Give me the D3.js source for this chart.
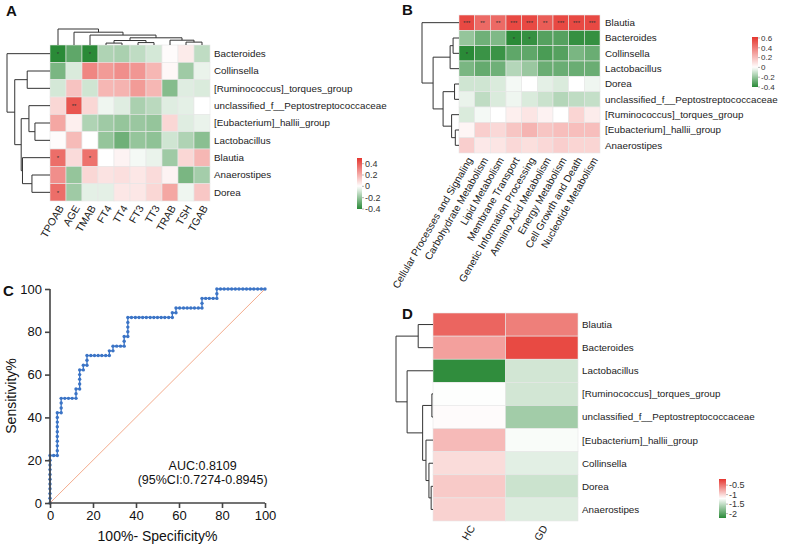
<!DOCTYPE html>
<html><head><meta charset="utf-8">
<script src="https://cdn.jsdelivr.net/npm/d3@7"></script>
<style>body{margin:0;background:#fff}svg{font-family:"Liberation Sans",Arial,sans-serif}</style>
</head><body><svg id="c" width="785" height="544"></svg>
<script>
// ---------------- DATA ----------------
// Panel A
const aRows = ["Bacteroides","Collinsella","[Ruminococcus]_torques_group","unclassified_f__Peptostreptococcaceae","[Eubacterium]_hallii_group","Lactobacillus","Blautia","Anaerostipes","Dorea"];
const aCols = ["TPOAB","AGE","TMAB","FT4","TT4","FT3","TT3","TRAB","TSH","TGAB"];
const aValues = [
  [-0.40,-0.30,-0.40,-0.15,-0.16,-0.12,-0.08, 0.01, 0.05,-0.12],
  [-0.25,-0.07, 0.30, 0.25, 0.28, 0.26, 0.18, 0.02,-0.18,-0.04],
  [-0.08, 0.15,-0.09, 0.18, 0.19, 0.25, 0.18,-0.23,-0.06,-0.07],
  [ 0.10, 0.42, 0.10,-0.03,-0.06,-0.16,-0.13,-0.06,-0.05, 0.00],
  [ 0.22, 0.04,-0.15,-0.18,-0.20,-0.19,-0.20, 0.10,-0.06,-0.04],
  [ 0.01, 0.17, 0.00,-0.20,-0.27,-0.20,-0.21,-0.09,-0.15,-0.22],
  [ 0.36, 0.09, 0.35, 0.00, 0.03,-0.02,-0.04,-0.18, 0.10, 0.18],
  [ 0.28,-0.20, 0.10, 0.07, 0.08, 0.06, 0.09, 0.03,-0.25,-0.17],
  [ 0.36,-0.18,-0.05,-0.05, 0.06, 0.06, 0.10, 0.22,-0.03, 0.14]
];
const aStars = [
  ["*","","*","","","","","","",""],
  ["","","","","","","","","",""],
  ["","","","","","","","","",""],
  ["","**","","","","","","","",""],
  ["","","","","","","","","",""],
  ["","","","","","","","","",""],
  ["*","","*","","","","","","",""],
  ["","","","","","","","","",""],
  ["*","","","","","","","","",""]
];
const aRowTree = {h:1.0,c:["Bacteroides",{h:0.82,c:[{h:0.53,c:["Collinsella","[Ruminococcus]_torques_group"]},{h:0.67,c:[{h:0.49,c:["unclassified_f__Peptostreptococcaceae",{h:0.35,c:["[Eubacterium]_hallii_group","Lactobacillus"]}]},{h:0.64,c:["Blautia",{h:0.42,c:["Anaerostipes","Dorea"]}]}]}]}]};
const aColTree = {h:1.0,c:["TPOAB",{h:0.8,c:["AGE",{h:0.62,c:["TMAB",{h:0.45,c:[{h:0.28,c:[{h:0.12,c:["FT4","TT4"]},{h:0.15,c:["FT3","TT3"]}]},{h:0.3,c:["TRAB",{h:0.18,c:["TSH","TGAB"]}]}]}]}]}]};
const aLegendTicks = [0.4,0.2,0,-0.2,-0.4];

// Panel B
const bRows = ["Blautia","Bacteroides","Collinsella","Lactobacillus","Dorea","unclassified_f__Peptostreptococcaceae","[Ruminococcus]_torques_group","[Eubacterium]_hallii_group","Anaerostipes"];
const bCols = ["Cellular Processes and Signaling","Carbohydrate Metabolism","Lipid Metabolism","Membrane Transport","Genetic Information Processing","Amnino Acid Metabolism","Energy Metabolism","Cell Growth and Death","Nucleotide Metabolism"];
const bValues = [
  [ 0.56, 0.46, 0.46, 0.56, 0.56, 0.50, 0.56, 0.56, 0.56],
  [-0.20,-0.27,-0.24,-0.40,-0.38,-0.32,-0.32,-0.38,-0.38],
  [-0.40,-0.37,-0.37,-0.30,-0.30,-0.34,-0.32,-0.25,-0.28],
  [-0.25,-0.29,-0.27,-0.14,-0.19,-0.28,-0.28,-0.28,-0.28],
  [-0.09,-0.09,-0.07,-0.02, 0.00,-0.05,-0.07, 0.00,-0.03],
  [-0.04,-0.12,-0.07,-0.03,-0.07,-0.10,-0.14,-0.12,-0.11],
  [-0.07,-0.02, 0.00, 0.05, 0.08, 0.04, 0.00, 0.13, 0.06],
  [ 0.03, 0.15, 0.12, 0.18, 0.23, 0.18, 0.20, 0.20, 0.20],
  [ 0.15, 0.07, 0.08, 0.12, 0.10, 0.12, 0.15, 0.13, 0.13]
];
const bStars = [
  ["***","**","**","***","***","**","***","***","***"],
  ["","","","*","*","","","",""],
  ["*","","","","","","","",""],
  ["","","","","","","","",""],
  ["","","","","","","","",""],
  ["","","","","","","","",""],
  ["","","","","","","","",""],
  ["","","","","","","","",""],
  ["","","","","","","","",""]
];
const bRowTree = {h:1.0,c:["Blautia",{h:0.7,c:[{h:0.24,c:[{h:0.16,c:["Bacteroides","Collinsella"]},"Lactobacillus"]},{h:0.43,c:[{h:0.12,c:["Dorea","unclassified_f__Peptostreptococcaceae"]},{h:0.2,c:["[Ruminococcus]_torques_group",{h:0.1,c:["[Eubacterium]_hallii_group","Anaerostipes"]}]}]}]}]};
const bLegendTicks = [0.6,0.4,0.2,0,-0.2,-0.4];

// Panel C
const rocPoints = [
  [0,0],[0,2.2],[0,4.4],[0,6.7],[0,8.9],[0,11.1],[0,13.3],[0,15.6],[0,17.8],[0,20.0],[0,22.2],
  [1.7,22.2],[3.4,22.2],
  [3.4,24.4],[3.4,26.7],[3.4,28.9],[3.4,31.1],[3.4,33.3],[3.4,35.6],[3.4,37.8],[3.4,40.0],[3.4,42.2],
  [5.2,42.2],[5.2,44.4],[5.2,46.7],[5.2,48.9],
  [6.9,48.9],[8.6,48.9],[10.3,48.9],[12.1,48.9],[12.1,51.1],[12.1,53.3],
  [13.8,53.3],[13.8,55.6],[13.8,57.8],[13.8,60.0],[13.8,62.2],
  [15.5,62.2],[15.5,64.4],[17.2,64.4],[17.2,66.7],[17.2,68.9],
  [19.0,68.9],[20.7,68.9],[22.4,68.9],[24.1,68.9],[25.9,68.9],[27.6,68.9],[27.6,71.1],
  [29.3,71.1],[29.3,73.3],[31.0,73.3],[32.8,73.3],[34.5,73.3],[34.5,75.6],[34.5,77.8],
  [36.2,77.8],[36.2,80.0],[36.2,82.2],[36.2,84.4],[36.2,86.7],
  [37.9,86.7],[39.7,86.7],[41.4,86.7],[43.1,86.7],[44.8,86.7],[46.6,86.7],[48.3,86.7],[50.0,86.7],[51.7,86.7],[53.4,86.7],[55.2,86.7],[56.9,86.7],
  [56.9,88.9],[58.6,88.9],[58.6,91.1],
  [60.3,91.1],[62.1,91.1],[63.8,91.1],[65.5,91.1],[67.2,91.1],[69.0,91.1],[70.7,91.1],[70.7,93.3],[70.7,95.6],
  [72.4,95.6],[74.1,95.6],[75.9,95.6],[77.6,95.6],[77.6,97.8],[77.6,100],
  [79.3,100],[81.0,100],[82.8,100],[84.5,100],[86.2,100],[87.9,100],[89.7,100],[91.4,100],[93.1,100],[94.8,100],[96.6,100],[98.3,100],[100,100]
];
const rocTicks = [0,20,40,60,80,100];
const aucText = ["AUC:0.8109","(95%CI:0.7274-0.8945)"];

// Panel D
const dRows = ["Blautia","Bacteroides","Lactobacillus","[Ruminococcus]_torques_group","unclassified_f__Peptostreptococcaceae","[Eubacterium]_hallii_group","Collinsella","Dorea","Anaerostipes"];
const dCols = ["HC","GD"];
const dValues = [
  [-0.42,-0.55],
  [-0.72,-0.28],
  [-2.20,-1.42],
  [-1.21,-1.42],
  [-1.18,-1.65],
  [-0.85,-1.23],
  [-1.02,-1.34],
  [-0.93,-1.45],
  [-0.97,-1.36]
];
const dRowTree = {h:1.0,c:[{h:0.4,c:["Blautia","Bacteroides"]},{h:0.7,c:["Lactobacillus",{h:0.28,c:[{h:0.03,c:["[Ruminococcus]_torques_group","unclassified_f__Peptostreptococcaceae"]},{h:0.19,c:["[Eubacterium]_hallii_group",{h:0.11,c:["Collinsella",{h:0.05,c:["Dorea","Anaerostipes"]}]}]}]}]}]};
const dLegendTicks = [-0.5,-1,-1.5,-2];

// ---------------- DRAWING ----------------
const svg = d3.select("#c");
const GREEN = "#2a8a37", WHITE = "#ffffff", RED = "#e5362f";
const TXT = "#222";

function drawTree(g, tree, leafPos, hScale, orient){
  function walk(n){
    if (typeof n === "string") return {p: leafPos(n), h: 0};
    const kids = n.c.map(walk);
    const hp = hScale(n.h);
    const p0 = kids[0].p, p1 = kids[1].p;
    if (orient === "left") g.append("line").attr("x1",hp).attr("x2",hp).attr("y1",p0).attr("y2",p1);
    else g.append("line").attr("y1",hp).attr("y2",hp).attr("x1",p0).attr("x2",p1);
    kids.forEach(k=>{
      const hk = hScale(k.h);
      if (orient === "left") g.append("line").attr("x1",hp).attr("x2",hk).attr("y1",k.p).attr("y2",k.p);
      else g.append("line").attr("y1",hp).attr("y2",hk).attr("x1",k.p).attr("x2",k.p);
    });
    return {p:(p0+p1)/2, h:n.h};
  }
  walk(tree);
  g.attr("stroke","#333").attr("stroke-width",1).attr("fill","none");
}

function heatmap(opts){
  const {rows, cols, values, stars, x0, x1, y0, y1, color, rowFont, colFont, labelX, colAngle} = opts;
  const xs = d3.scaleBand().domain(cols).range([x0,x1]);
  const ys = d3.scaleBand().domain(rows).range([y0,y1]);
  const g = svg.append("g");
  rows.forEach((r,i)=>cols.forEach((c,j)=>{
    g.append("rect").attr("x",xs(c)).attr("y",ys(r)).attr("width",xs.bandwidth()).attr("height",ys.bandwidth())
      .attr("fill",color(values[i][j])).attr("stroke","#e6e6e6").attr("stroke-width",0.6);
    if (stars && stars[i][j]) g.append("text").attr("x",xs(c)+xs.bandwidth()/2).attr("y",ys(r)+ys.bandwidth()/2+2.5)
      .attr("text-anchor","middle").attr("font-size",6).attr("fill","#333").text(stars[i][j]);
  }));
  g.selectAll(".rl").data(rows).join("text").attr("x",labelX).attr("y",d=>ys(d)+ys.bandwidth()/2)
    .attr("dy","0.35em").attr("font-size",rowFont).attr("fill",TXT).text(d=>d);
  g.selectAll(".cl").data(cols).join("text")
    .attr("transform",d=>`translate(${xs(d)+xs.bandwidth()/2+3},${y1+5}) rotate(${-colAngle})`)
    .attr("text-anchor","end").attr("dy","0.35em").attr("font-size",colFont).attr("fill",TXT).text(d=>d);
  return {xs, ys};
}

function legend(id, color, domain, ticks, x, yTop, yBot, w, fs){
  const defs = svg.append("defs");
  const gr = defs.append("linearGradient").attr("id",id).attr("x1",0).attr("x2",0).attr("y1",1).attr("y2",0);
  d3.range(0,1.0001,0.05).forEach(t=>{
    const v = domain[0] + t*(domain[1]-domain[0]);
    gr.append("stop").attr("offset",t).attr("stop-color",color(v));
  });
  svg.append("rect").attr("x",x).attr("y",yTop).attr("width",w).attr("height",yBot-yTop).attr("fill",`url(#${id})`);
  const s = d3.scaleLinear().domain(domain).range([yBot,yTop]);
  const g = svg.append("g");
  ticks.forEach(t=>{
    g.append("line").attr("x1",x+w).attr("x2",x+w+2).attr("y1",s(t)).attr("y2",s(t)).attr("stroke","#888").attr("stroke-width",0.6);
    g.append("text").attr("x",x+w+3).attr("y",s(t)).attr("dy","0.35em").attr("font-size",fs).attr("fill","#333").text(t);
  });
}

function panelLetter(t,x,y){
  svg.append("text").attr("x",x).attr("y",y).attr("font-size",15).attr("font-weight","bold").attr("fill","#111").text(t);
}

// ---- Panel A ----
const colorA = d3.scaleLinear().domain([-0.4,0,0.5]).range([GREEN,WHITE,RED]).clamp(true);
const hmA = heatmap({rows:aRows, cols:aCols, values:aValues, stars:aStars, x0:50, x1:210, y0:45, y1:201,
  color:colorA, rowFont:9.8, colFont:10.5, labelX:214, colAngle:60});
drawTree(svg.append("g"), aRowTree, n=>hmA.ys(n)+hmA.ys.bandwidth()/2, d3.scaleLinear().domain([0,1]).range([50,7]), "left");
drawTree(svg.append("g"), aColTree, n=>hmA.xs(n)+hmA.xs.bandwidth()/2, d3.scaleLinear().domain([0,1]).range([45,29]), "top");
legend("gA", colorA, [-0.4,0.5], aLegendTicks, 357, 158, 209, 5, 9);
panelLetter("A",6,16);

// ---- Panel B ----
const colorB = d3.scaleLinear().domain([-0.4,0,0.62]).range([GREEN,WHITE,RED]).clamp(true);
const hmB = heatmap({rows:bRows, cols:bCols, values:bValues, stars:bStars, x0:459, x1:600, y0:15, y1:153,
  color:colorB, rowFont:9.8, colFont:10.2, labelX:605, colAngle:60});
drawTree(svg.append("g"), bRowTree, n=>hmB.ys(n)+hmB.ys.bandwidth()/2, d3.scaleLinear().domain([0,1]).range([459,422]), "left");
legend("gB", colorB, [-0.4,0.62], bLegendTicks, 752, 37, 87, 6, 8);
panelLetter("B",402,15);

// ---- Panel C ----
const cx = d3.scaleLinear().domain([0,100]).range([50,265]);
const cy = d3.scaleLinear().domain([0,100]).range([503,289]);
const gC = svg.append("g");
gC.append("line").attr("x1",cx(0)).attr("y1",cy(0)).attr("x2",cx(100)).attr("y2",cy(100)).attr("stroke","#f2a27f").attr("stroke-width",0.9);
gC.append("path").datum(rocPoints).attr("d",d3.line().x(d=>cx(d[0])).y(d=>cy(d[1])))
  .attr("fill","none").attr("stroke","#3b74c6").attr("stroke-width",1.3);
gC.selectAll("circle").data(rocPoints).join("circle").attr("cx",d=>cx(d[0])).attr("cy",d=>cy(d[1])).attr("r",1.7).attr("fill","#3b74c6");
const axY = svg.append("g").attr("transform","translate(50,0)").call(d3.axisLeft(cy).tickValues(rocTicks).tickSize(5).tickPadding(3));
const axX = svg.append("g").attr("transform","translate(0,503)").call(d3.axisBottom(cx).tickValues(rocTicks).tickSize(5).tickPadding(3));
[axY,axX].forEach(a=>{
  a.selectAll("path,line").attr("stroke","#444").attr("stroke-width",1.6);
  a.selectAll("text").attr("font-size",13).attr("fill","#111").attr("font-family","Liberation Sans,Arial,sans-serif");
});
axY.select(".domain").attr("d","M0,"+cy(100)+"V"+cy(0));
axX.select(".domain").attr("d","M"+cx(0)+",0H"+cx(100));
svg.append("text").attr("transform",`translate(16,${(cy(0)+cy(100))/2}) rotate(-90)`).attr("text-anchor","middle")
  .attr("font-size",14).attr("fill","#111").text("Sensitivity%");
svg.append("text").attr("x",(cx(0)+cx(100))/2).attr("y",541).attr("text-anchor","middle")
  .attr("font-size",14).attr("fill","#111").text("100%- Specificity%");
aucText.forEach((t,i)=>svg.append("text").attr("x",cx(71)).attr("y",cy(15.5)+i*14).attr("text-anchor","middle")
  .attr("font-size",12.5).attr("fill","#111").text(t));
panelLetter("C",3,296);

// ---- Panel D ----
const colorD = d3.scaleLinear().domain([-2.23,-1.2,-0.18]).range([GREEN,WHITE,RED]).clamp(true);
const hmD = heatmap({rows:dRows, cols:dCols, values:dValues, stars:null, x0:433, x1:578, y0:313, y1:521,
  color:colorD, rowFont:9.8, colFont:10.5, labelX:582, colAngle:60});
drawTree(svg.append("g"), dRowTree, n=>hmD.ys(n)+hmD.ys.bandwidth()/2, d3.scaleLinear().domain([0,1]).range([433,396]), "left");
legend("gD", colorD, [-2.23,-0.18], dLegendTicks, 719, 479, 518, 7, 9);
panelLetter("D",402,319);
</script></body></html>
